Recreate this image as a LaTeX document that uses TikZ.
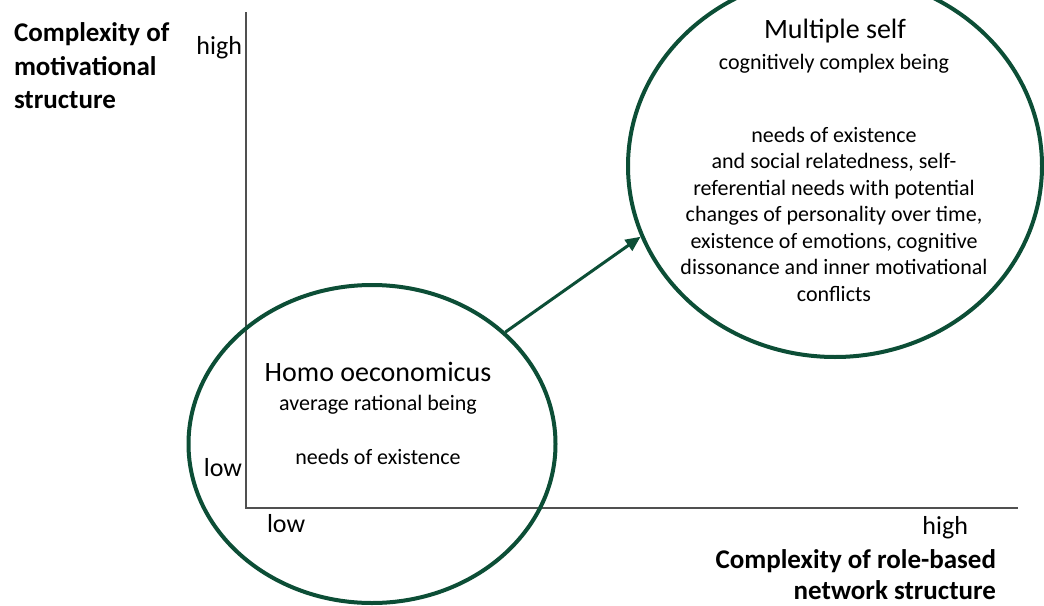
\documentclass[tikz,border=0pt]{standalone}
\usepackage{fontspec}
\setmainfont{Carlito}
\usetikzlibrary{shapes.geometric,arrows.meta}
\definecolor{dg}{RGB}{12,78,54}
\definecolor{axisgray}{RGB}{80,80,80}
\begin{document}
\begin{tikzpicture}[x=1pt,y=-1pt,
  ell/.style={ellipse,draw=dg,line width=4pt,inner sep=0pt},
  axisline/.style={draw=axisgray,line width=1.4pt},
  arr/.style={draw=dg,line width=3pt,-{Triangle[length=15pt,width=13pt]}},
  big/.style={font=\fontsize{28}{33}\selectfont},
  mid/.style={font=\fontsize{22}{26.5}\selectfont},
  tick/.style={font=\fontsize{26}{30}\selectfont},
  axlab/.style={font=\fontsize{27}{33.5}\selectfont\bfseries},
  txt/.style={inner sep=0pt,outer sep=0pt}
]
\useasboundingbox (0,0) rectangle (1044,605);
\clip (0,0) rectangle (1044,605);
\fill[white] (0,0) rectangle (1044,605);

% axes
\coordinate (O) at (246,508);
\coordinate (ytop) at (246,12);
\coordinate (xend) at (1018,508);
\draw[axisline] (ytop) -- (O) -- (xend);

% ellipses
\node[ell,minimum width=367pt,minimum height=318pt] (homo) at (372,444) {};
\node[ell,minimum width=414pt,minimum height=382pt] (multi) at (835,166) {};

% arrow
\draw[arr] (homo.40) -- (multi.200);

% axis labels
\node[txt,axlab,anchor=north west,align=left] (ylab) at (14,23) {Complexity of\\motivational\\structure};
\node[txt,axlab,anchor=north east,align=right,font=\fontsize{27}{30.5}\selectfont\bfseries] (xlab) at (996,550) {Complexity of role-based\\network structure};
\node[txt,tick,anchor=base east] (yhigh) at (242,54) {high};
\node[txt,tick,anchor=base east] (ylow) at (242,476) {low};
\node[txt,tick,anchor=base west] (xlow) at (267,532) {low};
\node[txt,tick,anchor=base east] (xhigh) at (968,534) {high};

% homo oeconomicus text
\node[txt,big,anchor=base] (homot) at (378,381) {Homo oeconomicus};
\node[txt,mid,anchor=base] (homos) at (378,410) {average rational being};
\node[txt,mid,anchor=base] (homon) at (378,464) {needs of existence};

% multiple self text
\node[txt,big,anchor=base] (multit) at (835,38) {Multiple self};
\node[txt,mid,anchor=base] (multis) at (834,69) {cognitively complex being};
\node[txt,mid,anchor=north,align=center] (multib) at (834,127) {needs of existence\\and social relatedness, self-\\referential needs with potential\\changes of personality over time,\\existence of emotions, cognitive\\dissonance and inner motivational\\conflicts};
\end{tikzpicture}
\end{document}
